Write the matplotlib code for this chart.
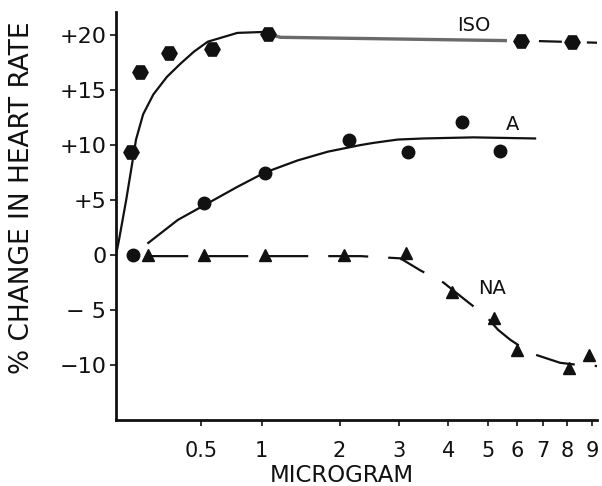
import numpy as np
import matplotlib
matplotlib.use("Agg")
import matplotlib.pyplot as plt

# ---- data ----
iso_x = [0.09, 0.14, 0.31, 0.59, 1.08, 6.15, 8.2]
iso_y = [9.4, 16.6, 18.4, 18.7, 20.1, 19.5, 19.4]
a_x = [0.10, 0.53, 1.04, 2.15, 3.18, 4.35, 5.41]
a_y = [0.0, 4.7, 7.5, 10.5, 9.4, 12.1, 9.5]
na_x = [0.19, 0.53, 1.04, 2.08, 3.14, 4.10, 5.20, 6.00, 8.08, 8.88]
na_y = [0.0, 0.0, 0.0, 0.0, 0.2, -3.4, -5.7, -8.6, -10.3, -9.1]

# hand-drawn fitted curves
iso_fit_x = [0.0, 0.018, 0.06, 0.094, 0.118, 0.16, 0.22, 0.30, 0.38, 0.46, 0.557, 0.80, 1.08]
iso_fit_y = [0.0, 1.4, 5.0, 8.2, 10.5, 12.8, 14.6, 16.2, 17.4, 18.5, 19.4, 20.2, 20.3]
iso_flat_x = [1.08, 1.24, 5.59]
iso_flat_y = [20.1, 19.8, 19.5]
iso_dash_x = [6.15, 9.3]
iso_dash_y = [19.5, 19.3]
a_fit_x = [0.19, 0.365, 0.54, 0.80, 1.04, 1.46, 1.85, 2.35, 2.57, 2.97, 3.49, 4.63, 6.69]
a_fit_y = [1.1, 3.2, 4.6, 6.2, 7.5, 8.6, 9.4, 10.0, 10.2, 10.5, 10.6, 10.7, 10.6]
na_fit_x = [0.19, 2.35, 3.02, 3.43, 3.90, 4.5, 4.93, 5.34, 5.76, 6.5, 7.71, 8.48, 9.24]
na_fit_y = [-0.1, -0.1, -0.3, -1.4, -2.5, -4.3, -5.5, -6.8, -7.7, -8.9, -9.8, -10.0, -10.1]

x_ticks = [0.5, 1, 2, 3, 4, 5, 6, 7, 8, 9]
x_ticklabels = ["0.5", "1", "2", "3", "4", "5", "6", "7", "8", "9"]
y_ticks = [-10, -5, 0, 5, 10, 15, 20]
y_ticklabels = ["\u221210", "\u2212 5", "0", "+5", "+10", "+15", "+20"]

# hand-drawn (irregular) dose axis: value -> drawing position
knot_v = np.array([0, 0.5, 1, 2, 3, 4, 5, 6, 7, 8, 9, 10])
knot_p = np.array([0, 85, 146, 224, 284, 333, 373, 402, 428, 452, 477, 502], dtype=float)

def fwd(x):
    return np.interp(x, knot_v, knot_p)

def inv(p):
    return np.interp(p, knot_p, knot_v)

plt.rcParams['font.family'] = ['DejaVu Sans']
plt.rcParams['lines.scale_dashes'] = False

fig = plt.figure(figsize=(6.02, 4.86), dpi=100)
ax = fig.add_axes([116/602, 1 - 420/486, (597-116)/602, (420-12)/486])
ax.set_xscale('function', functions=(fwd, inv))
ax.set_xlim(0, 9.2)
ax.set_ylim(-15, 22.1)

k = '#111111'
# curves
ax.plot(iso_fit_x, iso_fit_y, color=k, lw=1.6, solid_capstyle='round')
ax.plot(iso_flat_x, iso_flat_y, color='#6a6a6a', lw=2.4)
ax.plot(iso_dash_x, iso_dash_y, color=k, lw=1.6, linestyle=(21.6, (16.5, 18.0)))
ax.plot(a_fit_x, a_fit_y, color=k, lw=1.6)
ax.plot(na_fit_x, na_fit_y, color=k, lw=1.6, linestyle=(0, (28.8, 14.4)))

# points
ax.plot(iso_x, iso_y, linestyle='none', marker='H', markersize=11, color=k)
ax.plot(a_x, a_y, linestyle='none', marker='o', markersize=9, color=k)
ax.plot(na_x, na_y, linestyle='none', marker='^', markersize=8, color=k)

# series labels
ax.text(4.63, 20.9, "ISO", fontsize=14, ha='center', va='center', color=k)
ax.text(5.83, 11.9, "A", fontsize=14, ha='center', va='center', color=k)
ax.text(5.14, -3.0, "NA", fontsize=14, ha='center', va='center', color=k)

for s in ['top', 'right']:
    ax.spines[s].set_visible(False)
for s in ['left', 'bottom']:
    ax.spines[s].set_linewidth(2.0)
    ax.spines[s].set_color(k)

ax.set_xticks(x_ticks)
ax.set_xticklabels(x_ticklabels, fontsize=15)
ax.set_yticks(y_ticks)
ax.set_yticklabels(y_ticklabels, fontsize=16)
ax.minorticks_off()
ax.tick_params(axis='x', direction='out', length=4, width=1.2, pad=11, colors=k)
ax.tick_params(axis='y', direction='out', length=4, width=1.2, pad=3, colors=k)

fig.text(342/602, 1 - 475/486, "MICROGRAM", fontsize=16.5, ha='center', va='center', color=k)
fig.text(22/602, 1 - 198/486, "% CHANGE IN HEART RATE", fontsize=19, rotation=90,
         ha='center', va='center', color=k)

fig.savefig("out.png", dpi=100)
